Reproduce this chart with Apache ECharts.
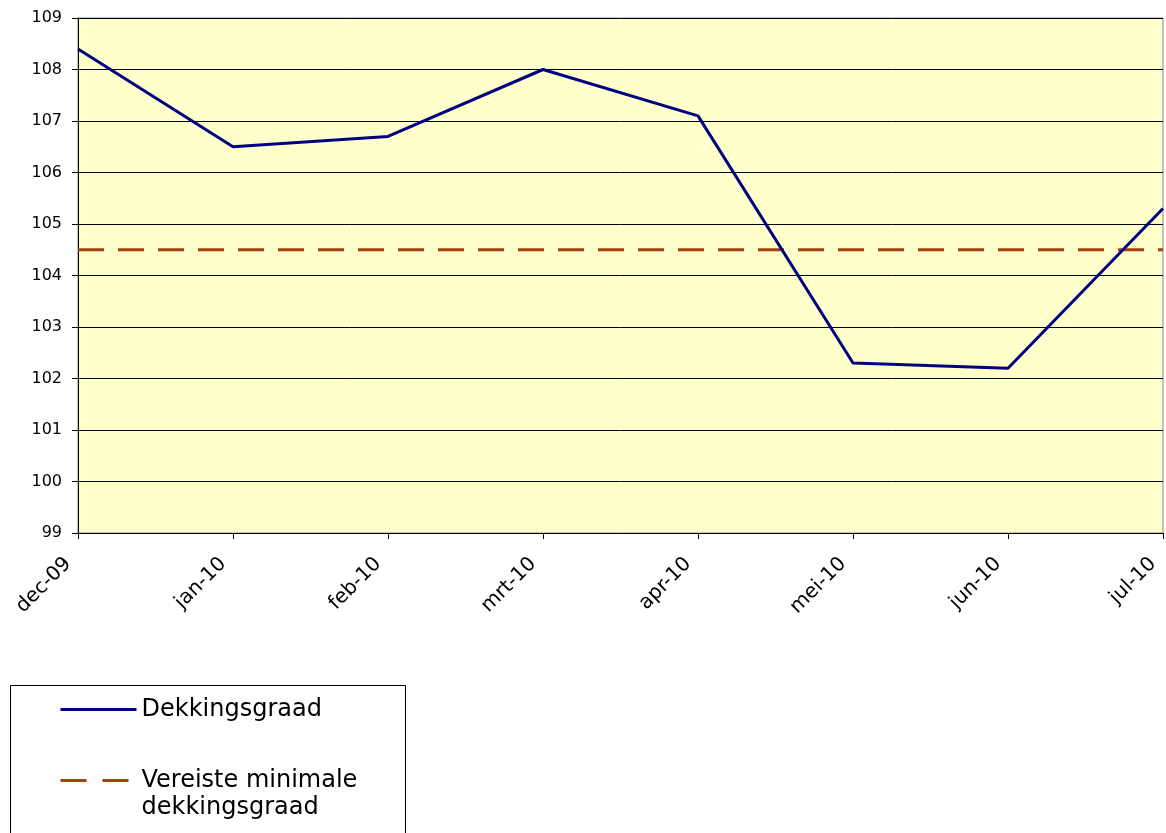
<!DOCTYPE html>
<html><head><meta charset="utf-8">
<script src="https://cdn.jsdelivr.net/npm/echarts@6/dist/echarts.min.js"></script>
<style>html,body{margin:0;padding:0;background:#fff}#c{width:1166px;height:833px}</style>
</head><body><div id="c"></div>
<script>
const categories = ['dec-09','jan-10','feb-10','mrt-10','apr-10','mei-10','jun-10','jul-10'];
const dekkingsgraad = [108.4, 106.5, 106.7, 108.0, 107.1, 102.3, 102.2, 105.3];
const vereiste = [104.5, 104.5, 104.5, 104.5, 104.5, 104.5, 104.5, 104.5];
const yTicks = {min: 99, max: 109, interval: 1};
const seriesNames = ['Dekkingsgraad', 'Vereiste minimale dekkingsgraad'];
const legendLabels = {'Dekkingsgraad': 'Dekkingsgraad', 'Vereiste minimale dekkingsgraad': '\nVereiste minimale\ndekkingsgraad'};

const font = 'DejaVu Sans, Verdana, sans-serif';
const chart = echarts.init(document.getElementById('c'), null, {renderer: 'canvas'});
chart.setOption({
  animation: false,
  backgroundColor: '#fff',
  grid: {left: 78, right: 3, top: 18, height: 515, show: true, backgroundColor: '#FFFFCC', borderColor: '#888', borderWidth: 1},
  graphic: [{type: 'rect', shape: {x: 10.5, y: 685.5, width: 395, height: 170}, style: {fill: 'none', stroke: '#000', lineWidth: 1}, z: -1}],
  legend: {
    orient: 'vertical', left: 10, top: 685, height: 300, padding: [11, 20, 10, 49],
    itemWidth: 76, itemHeight: 14, itemGap: 17,
    itemStyle: {opacity: 0},
    formatter: name => legendLabels[name],
    textStyle: {fontFamily: font, fontSize: 24, color: '#000', lineHeight: 27},
    data: [
      {name: seriesNames[0], itemStyle: {opacity: 0}, lineStyle: {width: 3, color: '#000080'}},
      {name: seriesNames[1], itemStyle: {opacity: 0}, lineStyle: {width: 3, color: '#A8400F', type: [26, 16]}}
    ]
  },
  xAxis: {
    type: 'category', data: categories, boundaryGap: false,
    axisLine: {lineStyle: {color: '#000', width: 1}},
    axisTick: {show: true, length: 6, alignWithLabel: true, lineStyle: {color: '#000'}},
    axisLabel: {rotate: 45, fontFamily: font, fontSize: 20, color: '#000', margin: 18, padding: [0, 14, 0, 0], interval: 0},
    splitLine: {show: false}
  },
  yAxis: {
    type: 'value', min: yTicks.min, max: yTicks.max, interval: yTicks.interval,
    axisLine: {show: true, lineStyle: {color: '#000', width: 1}},
    axisTick: {show: true, length: 6, lineStyle: {color: '#000'}},
    axisLabel: {fontFamily: font, fontSize: 16, color: '#000', margin: 16},
    splitLine: {show: true, lineStyle: {color: '#000', width: 1}}
  },
  series: [
    {name: seriesNames[0], type: 'line', data: dekkingsgraad, symbol: 'none', showSymbol: false,
     lineStyle: {color: '#000080', width: 3}, itemStyle: {color: '#000080'}, z: 3},
    {name: seriesNames[1], type: 'line', data: vereiste, symbol: 'none', showSymbol: false,
     lineStyle: {color: '#A8400F', width: 3, type: [26, 14]}, itemStyle: {color: '#A8400F'}, z: 2}
  ]
});
</script></body></html>
